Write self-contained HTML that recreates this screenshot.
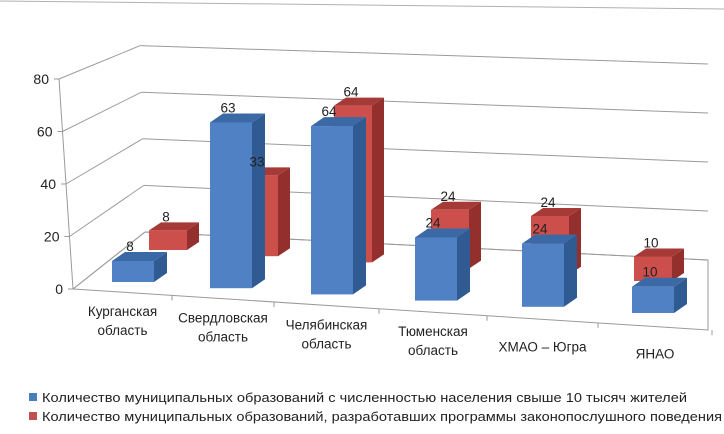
<!DOCTYPE html>
<html><head><meta charset="utf-8"><style>
html,body{margin:0;padding:0;background:#fff;}
svg{display:block;font-family:"Liberation Sans","DejaVu Sans",sans-serif;}
</style></head><body>
<svg id="chart" width="724" height="434" viewBox="0 0 724 434" xmlns="http://www.w3.org/2000/svg">
<line x1="0" y1="1" x2="724" y2="9" stroke="#b0b0b0" stroke-width="1"/>
<g id="walls"></g>
<g id="bars"></g>
<g id="labels"></g>
<g id="cats"></g>
<g>
  <g>
    <rect x="29" y="393" width="8" height="8" fill="#4a7ebb"/>
    <text x="42" y="402" font-size="12.5" textLength="645" lengthAdjust="spacingAndGlyphs" fill="#222">Количество муниципальных образований с численностью населения свыше 10 тысяч жителей</text>
  </g>
  <g>
    <rect x="29" y="412" width="8" height="8" fill="#c0504d"/>
    <text x="42" y="421" font-size="12.5" textLength="680" lengthAdjust="spacingAndGlyphs" fill="#222">Количество муниципальных образований, разработавших программы законопослушного поведения</text>
  </g>
</g>
</svg>
<script>
const categories = [["Курганская","область"],["Свердловская","область"],["Челябинская","область"],["Тюменская","область"],["ХМАО – Югра"],["ЯНАО"]];
const seriesBlue = [8, 63, 64, 24, 24, 10];
const seriesRed = [8, 33, 64, 24, 24, 10];
const yTicks = [0, 20, 40, 60, 80];

const NS = "http://www.w3.org/2000/svg";
function mk(tag, attrs, parent){const e=document.createElementNS(NS,tag);for(const k in attrs)e.setAttribute(k,attrs[k]);parent.appendChild(e);return e;}
const walls=document.getElementById('walls'), bars=document.getElementById('bars'), labels=document.getElementById('labels'), cats=document.getElementById('cats');
const GRID="#9a9a9a";
function frontX(v){return 73 - v*0.175;}
function frontY(v){return 289 - v*2.625;}
function backLX(v){return 145 - v*0.06;}
function backLY(v){return 232 - v*2.33;}
function backRY(v){return 260 - v*2.45;}
function catCenter(i){return 133 + 98*i + 1.5*i*(i-1);}
function catBound(k){return 73 + 99*k + 1.5*k*(k-1);}
function floorY(x){return 289 + (x-73)*41/635;}
function blueBase(i){return 282 + 6.2*i;}
function hBlue(v){return v*2.63;}
function hRed(v){return v*2.45;}

let p=mk('polyline',{points:`73,289 708,330 708,260 145,232 73,289`,fill:'none',stroke:GRID,'stroke-width':1},walls);


let ax=mk('line',{x1:frontX(0),y1:frontY(0),x2:frontX(80),y2:frontY(80),stroke:GRID},walls);


yTicks.forEach(v=>{
  const g=mk('line',{x1:frontX(v),y1:frontY(v),x2:backLX(v),y2:backLY(v),stroke:GRID},walls);
  
  
  const b=mk('line',{x1:backLX(v),y1:backLY(v),x2:708,y2:backRY(v),stroke:GRID},walls);
  
  
  const t=mk('line',{x1:frontX(v)-5,y1:frontY(v),x2:frontX(v),y2:frontY(v),stroke:GRID},walls);
  
  
  const tx=mk('text',{x:frontX(v)-10,y:frontY(v)+5,'text-anchor':'end','font-size':14,fill:'#222'},walls);
  tx.textContent=v;
  
  
});
for(let k=1;k<=categories.length;k++){
  const x=catBound(k), y=floorY(x);
  const t=mk('line',{x1:x,y1:y,x2:x,y2:y+5,stroke:GRID},walls);
  
  
}
function drawBar(cx,base,h,w,dx,dy,cols,name){
  const g=mk('g',{},bars);
  
  
  const l=cx-w/2,r=cx+w/2,top=base-h;
  mk('polygon',{points:`${r},${base} ${r+dx},${base+dy} ${r+dx},${top+dy} ${r},${top}`,fill:cols[2]},g);
  mk('polygon',{points:`${l},${top} ${r},${top} ${r+dx},${top+dy} ${l+dx},${top+dy}`,fill:cols[1]},g);
  mk('rect',{x:l,y:top,width:w,height:h,fill:cols[0]},g);
  return top;
}
const RED=['#cd4f4b','#a63a37','#93302d'], BLUE=['#4f81c4','#3b69a6','#305b92'];
const redTops=[], blueTops=[];
seriesRed.forEach((v,i)=>{
  const cx=catCenter(i)+35-7*i, base=blueBase(i)-32;
  redTops.push([cx,drawBar(cx,base,hRed(v),38,12,-8,RED,'bar-red-'+i)]);
});
seriesBlue.forEach((v,i)=>{
  const cx=catCenter(i), base=blueBase(i);
  blueTops.push([cx,drawBar(cx,base,hBlue(v),42,13,-9,BLUE,'bar-blue-'+i)]);
});
function lab(x,y,txt,name){
  const t=mk('text',{x:x,y:y,'text-anchor':'middle','font-size':13.5,fill:'#222'},labels);
  t.textContent=txt;
  
  
}
seriesRed.forEach((v,i)=>lab(redTops[i][0]-2,redTops[i][1]-9,v,'label-red-'+i));
seriesBlue.forEach((v,i)=>lab(blueTops[i][0]-3,blueTops[i][1]-10,v,'label-blue-'+i));
categories.forEach((lines,i)=>{
  const x=(catBound(i)+catBound(i+1))/2, y0=floorY(x)+24+(lines.length===1?8:0);
  const t=mk('text',{x:x,y:y0,'text-anchor':'middle','font-size':13.5,fill:'#222'},cats);
  
  
  lines.forEach((s,j)=>{const ts=mk('tspan',{x:x,dy:j?19:0},t);ts.textContent=s;});
});
</script>
</body></html>
